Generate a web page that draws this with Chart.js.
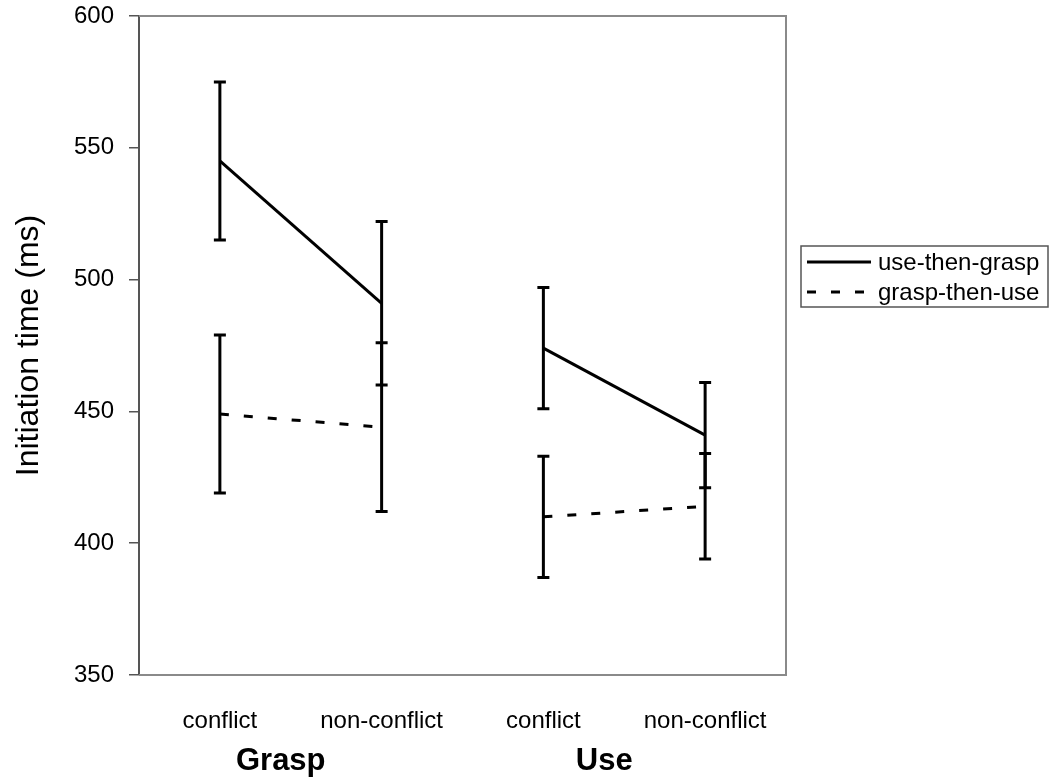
<!DOCTYPE html>
<html>
<head>
<meta charset="utf-8">
<script src="https://cdn.jsdelivr.net/npm/chart.js@4/dist/chart.umd.min.js"></script>
<style>
  body { margin: 0; background: #fff; }
  #wrap { width: 1053px; height: 782px; }
</style>
</head>
<body>
<div id="wrap"><canvas id="canvas"></canvas></div>
<script>
var categories = ["conflict", "non-conflict", "conflict", "non-conflict"];
var groups = ["Grasp", "Use"];
var seriesNames = ["use-then-grasp", "grasp-then-use"];
var useThenGrasp = [545, 491, 474, 441];
var useThenGraspErr = [30, 31, 23, 20];
var graspThenUse = [449, 444, 410, 414];
var graspThenUseErr = [30, 32, 23, 20];
var yTicks = [350, 400, 450, 500, 550, 600];

var FONT = "'Liberation Sans', Arial, sans-serif";

// error bars with caps, drawn through the y scale
var errorBars = {
    id: 'errorBars',
    afterDatasetsDraw: function(chart) {
        var ctx = chart.ctx;
        var y = chart.scales.y;
        ctx.save();
        ctx.strokeStyle = '#000';
        ctx.lineWidth = 3;
        chart.data.datasets.forEach(function(ds, di) {
            var meta = chart.getDatasetMeta(di);
            meta.data.forEach(function(pt, i) {
                var top = y.getPixelForValue(ds.data[i] + ds.err[i]);
                var bot = y.getPixelForValue(ds.data[i] - ds.err[i]);
                ctx.beginPath();
                ctx.moveTo(pt.x, top); ctx.lineTo(pt.x, bot);
                ctx.moveTo(pt.x - 6, top); ctx.lineTo(pt.x + 6, top);
                ctx.moveTo(pt.x - 6, bot); ctx.lineTo(pt.x + 6, bot);
                ctx.stroke();
            });
        });
        ctx.restore();
    }
};

// grey box round the plot + boxed legend on the right
var frameAndLegend = {
    id: 'frameAndLegend',
    afterDraw: function(chart) {
        var ctx = chart.ctx;
        var a = chart.chartArea;
        ctx.save();
        ctx.strokeStyle = '#8a8a8a';
        ctx.lineWidth = 2;
        ctx.beginPath();
        ctx.moveTo(a.left, a.top); ctx.lineTo(a.right, a.top);
        ctx.lineTo(a.right, a.bottom); ctx.lineTo(a.left, a.bottom);
        ctx.stroke();

        var lx = 801, ly = 246, lw = 247, lh = 61;
        ctx.strokeStyle = '#555';
        ctx.lineWidth = 1.5;
        ctx.strokeRect(lx, ly, lw, lh);
        ctx.font = '24px ' + FONT;
        ctx.fillStyle = '#000';
        ctx.textBaseline = 'middle';
        chart.data.datasets.forEach(function(ds, i) {
            var yy = ly + 16 + i * 30;
            ctx.strokeStyle = '#000';
            ctx.lineWidth = 3;
            ctx.setLineDash(ds.borderDash || []);
            ctx.beginPath();
            ctx.moveTo(lx + 6, yy); ctx.lineTo(lx + 70, yy);
            ctx.stroke();
            ctx.setLineDash([]);
            ctx.fillText(ds.label, lx + 77, yy + 1);
        });
        ctx.restore();
    }
};

// no line between the Grasp and Use groups
var gap = function(c) { return c.p0DataIndex === 1 ? 'transparent' : undefined; };

window.onload = function() {
    var config = {
        type: 'line',
        data: {
            labels: categories,
            datasets: [{
                label: seriesNames[0],
                data: useThenGrasp,
                err: useThenGraspErr,
                borderColor: '#000',
                borderWidth: 3,
                pointRadius: 0,
                fill: false,
                segment: { borderColor: gap }
            }, {
                label: seriesNames[1],
                data: graspThenUse,
                err: graspThenUseErr,
                borderColor: '#000',
                borderWidth: 3,
                borderDash: [9, 15],
                pointRadius: 0,
                fill: false,
                segment: { borderColor: gap }
            }]
        },
        options: {
            responsive: true,
            maintainAspectRatio: false,
            animation: false,
            layout: { padding: { top: 16, right: 267, left: 0, bottom: 0 } },
            plugins: { legend: { display: false }, tooltip: { enabled: false } },
            scales: {
                y: {
                    min: 350, max: 600,
                    afterBuildTicks: function(s) { s.ticks = yTicks.map(function(v) { return { value: v }; }); },
                    afterFit: function(s) { s.width = 139; s.paddingTop = 0; },
                    border: { display: true, color: '#555', width: 2 },
                    grid: { drawOnChartArea: false, drawTicks: true, tickLength: 10, color: '#555', lineWidth: 1.5 },
                    ticks: { color: '#000', padding: 15, font: { size: 24, family: FONT } },
                    title: { display: true, text: 'Initiation time (ms)', color: '#000',
                             font: { size: 32, family: FONT }, padding: { top: 10, bottom: 0 } }
                },
                x: {
                    type: 'category',
                    offset: true,
                    afterFit: function(s) { s.height = 62; },
                    border: { display: false },
                    grid: { display: false, drawTicks: false },
                    ticks: { color: '#000', padding: 32, maxRotation: 0, font: { size: 24, family: FONT } }
                },
                x2: {
                    type: 'category',
                    position: 'bottom',
                    labels: groups,
                    offset: true,
                    afterFit: function(s) { s.height = 45; },
                    border: { display: false },
                    grid: { display: false, drawTicks: false },
                    ticks: { color: '#000', padding: 6, labelOffset: -20, maxRotation: 0, font: { size: 31, weight: 'bold', family: FONT } }
                }
            }
        },
        plugins: [errorBars, frameAndLegend]
    };
    window.myChart = new Chart(document.getElementById("canvas"), config);
};
</script>
</body>
</html>
